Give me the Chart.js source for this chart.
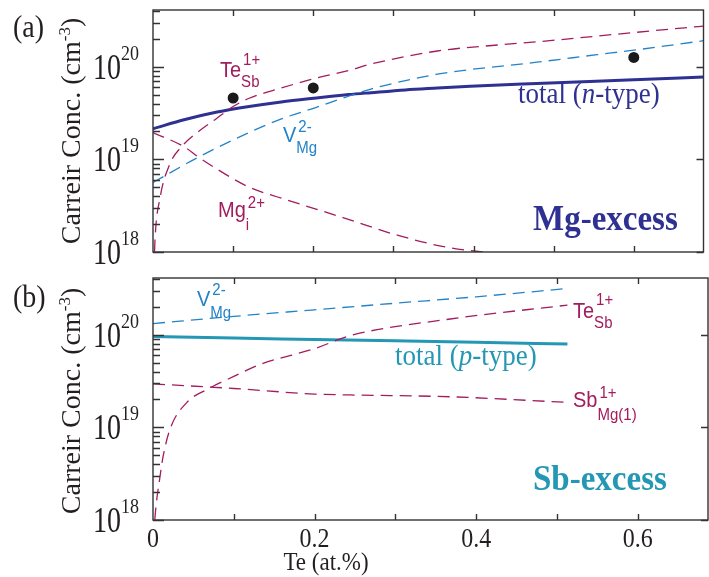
<!DOCTYPE html>
<html>
<head>
<meta charset="utf-8">
<script src="https://cdn.jsdelivr.net/npm/chart.js@4.4.1/dist/chart.umd.min.js"></script>
<style>
  html, body { margin: 0; padding: 0; background: #fff; }
  #wrap { position: relative; width: 709px; height: 577px; }
  canvas { position: absolute; left: 0; }
  #chartA { top: 0; }
  #chartB { top: 262px; }
</style>
</head>
<body>
<div id="wrap">
  <canvas id="chartA" width="709" height="274"></canvas>
  <canvas id="chartB" width="709" height="315"></canvas>
</div>
<script>
// ---- data (x = Te at.%, y = carrier conc. cm^-3) ----

// (a) Mg-excess
const totalNX = [0, 0.04, 0.08, 0.12, 0.16, 0.2, 0.244, 0.272, 0.315, 0.355, 0.396, 0.479, 0.6, 0.687];
const totalNY = [2.14e19, 2.69e19, 3.24e19, 3.72e19, 4.17e19, 4.57e19, 5.01e19, 5.25e19, 5.62e19, 5.89e19, 6.17e19, 6.61e19, 7.24e19, 7.76e19];

const teSbAX = [0.0012, 0.0025, 0.0087, 0.021, 0.037, 0.058, 0.079, 0.1, 0.12, 0.16, 0.2, 0.244, 0.272, 0.355, 0.438, 0.479, 0.6, 0.687];
const teSbAY = [6.3e17, 1.35e18, 3.8e18, 8.9e18, 1.41e19, 2.04e19, 2.75e19, 3.72e19, 4.57e19, 5.89e19, 7.41e19, 9.12e19, 1.07e20, 1.48e20, 1.74e20, 1.86e20, 2.34e20, 2.75e20];

const vMgAX = [0, 0.056, 0.12, 0.161, 0.203, 0.24, 0.272, 0.315, 0.355, 0.396, 0.438, 0.479, 0.554, 0.6, 0.687];
const vMgAY = [5.62e18, 1.05e19, 1.95e19, 2.75e19, 3.63e19, 4.68e19, 5.75e19, 7.08e19, 8.32e19, 9.33e19, 1.02e20, 1.12e20, 1.35e20, 1.51e20, 1.91e20];

const mgIX = [0, 0.04, 0.056, 0.079, 0.12, 0.161, 0.238, 0.306, 0.368, 0.436];
const mgIY = [1.95e19, 1.35e19, 1.07e19, 7.94e18, 5.01e18, 3.8e18, 2.34e18, 1.51e18, 1.12e18, 9.5e17];

const measX = [0.1, 0.2, 0.6];
const measY = [4.6e19, 5.9e19, 1.26e20];

// (b) Sb-excess
const totalPX = [0, 0.1, 0.2, 0.3, 0.4, 0.513];
const totalPY = [9.55e19, 9.2e19, 8.9e19, 8.6e19, 8.3e19, 7.94e19];

const vMgBX = [0, 0.1, 0.2, 0.3, 0.4, 0.513];
const vMgBY = [1.32e20, 1.58e20, 1.86e20, 2.19e20, 2.57e20, 3.16e20];

const teSbBX = [0.001, 0.0025, 0.0087, 0.0124, 0.021, 0.042, 0.067, 0.1, 0.133, 0.2, 0.244, 0.368, 0.513];
const teSbBY = [6.3e17, 1.07e18, 2.95e18, 4.79e18, 9.55e18, 1.86e19, 2.57e19, 3.55e19, 4.79e19, 7.08e19, 9.77e19, 1.48e20, 2.09e20];

const sbMgX = [0, 0.1, 0.2, 0.244, 0.368, 0.513];
const sbMgY = [2.95e19, 2.63e19, 2.29e19, 2.24e19, 2.14e19, 1.86e19];

// axes
const xMin = 0, xMax = 0.687;
const yMin = 1e18, yMax = 4.1e20;
const xTicks = [0.1, 0.2, 0.3, 0.4, 0.5, 0.6];
const xTickLabels = ["0", "0.2", "0.4", "0.6"];
const yExps = [18, 19, 20];
const yMinorMant = [2, 3, 4, 5, 6, 7, 8, 9];

const MAGENTA = "#a21c5e";
const BLUE = "#2383c8";
const NAVY = "#2e3192";
const TEAL = "#2497b5";
const INK = "#231f20";
const SERIF = '"Liberation Serif", "Times New Roman", serif';
const SANS = '"Liberation Sans", Arial, sans-serif';

const pts = (xs, ys) => xs.map((x, i) => ({ x: x, y: ys[i] }));

const dashed = (data, color) => ({
  data: data,
  showLine: true,
  borderColor: color,
  borderWidth: 1.3,
  borderDash: [12, 7],
  pointRadius: 0,
  cubicInterpolationMode: "monotone",
  clip: 0,
});

const solid = (data, color) => ({
  data: data,
  showLine: true,
  borderColor: color,
  borderWidth: 3,
  pointRadius: 0,
  cubicInterpolationMode: "monotone",
  clip: 0,
});

function drawText(ctx, s, x, y, font, color, align, sx, sy) {
  ctx.save();
  ctx.font = font;
  ctx.fillStyle = color;
  ctx.textAlign = align || "left";
  ctx.textBaseline = "alphabetic";
  ctx.translate(x, y);
  ctx.scale(sx || 1, sy || 1);
  ctx.fillText(s, 0, 0);
  const w = ctx.measureText(s).width * (sx || 1);
  ctx.restore();
  return w;
}

function runs(ctx, parts, x, y, color, sy) {
  let cx = x;
  parts.forEach(([s, f]) => {
    cx += drawText(ctx, s, cx, y, f, color, "left", 1, sy);
  });
}

// label like Te_Sb^1+
function species(ctx, x, y, main, sup, sub, color, supDy, subDy) {
  const w = drawText(ctx, main, x, y, "20px " + SANS, color, "left", 1, 1.1);
  drawText(ctx, sup, x + w + 2, y + supDy, "15px " + SANS, color, "left", 1, 1.1);
  drawText(ctx, sub, x + w, y + subDy, "15px " + SANS, color, "left", 1, 1.1);
}

function yTitle(ctx, cy) {
  const f = "28px " + SERIF, fs = "17px " + SERIF;
  ctx.save();
  ctx.translate(80, cy);
  ctx.rotate(-Math.PI / 2);
  ctx.fillStyle = INK;
  ctx.font = f;
  const a = "Carreir Conc. (cm", c = ")";
  const wa = ctx.measureText(a).width, wc = ctx.measureText(c).width;
  ctx.font = fs;
  const wb = ctx.measureText("-3").width;
  let x0 = -(wa + wb + wc) / 2;
  ctx.font = f;
  ctx.fillText(a, x0, 0);
  ctx.font = fs;
  ctx.fillText("-3", x0 + wa, -10);
  ctx.font = f;
  ctx.fillText(c, x0 + wa + wb, 0);
  ctx.restore();
}

function frame(showXLabels, decorate) {
  return {
    id: "frame",
    afterDraw(chart) {
      const ctx = chart.ctx;
      const area = chart.chartArea;
      const xs = chart.scales.x, ys = chart.scales.y;
      ctx.save();
      ctx.strokeStyle = "#333";
      ctx.lineWidth = 1.4;
      ctx.strokeRect(area.left, area.top, area.right - area.left, area.bottom - area.top);
      ctx.beginPath();
      // x ticks, top and bottom, pointing inside
      xTicks.forEach((v) => {
        const px = Math.round(xs.getPixelForValue(v)) + 0.5;
        ctx.moveTo(px, area.top); ctx.lineTo(px, area.top + 6);
        ctx.moveTo(px, area.bottom); ctx.lineTo(px, area.bottom - 6);
      });
      // y ticks: left major + minor, right major only
      yExps.forEach((e) => {
        const py = Math.round(ys.getPixelForValue(Math.pow(10, e))) + 0.5;
        ctx.moveTo(area.left, py); ctx.lineTo(area.left + 11, py);
        ctx.moveTo(area.right, py); ctx.lineTo(area.right - 7, py);
        yMinorMant.forEach((m) => {
          const v = m * Math.pow(10, e);
          if (v > yMax) return;
          const pm = Math.round(ys.getPixelForValue(v)) + 0.5;
          ctx.moveTo(area.left, pm); ctx.lineTo(area.left + 7, pm);
        });
      });
      ctx.stroke();
      ctx.restore();

      // y tick labels 10^n
      yExps.forEach((e) => {
        const py = ys.getPixelForValue(Math.pow(10, e));
        const ws = drawText(ctx, String(e), 139, py - 7, "18px " + SERIF, INK, "right", 1, 1.2);
        drawText(ctx, "10", 139 - ws, py + 12, "28px " + SERIF, INK, "right", 1, 1.3);
      });

      if (showXLabels) {
        [0, 0.2, 0.4, 0.6].forEach((v, i) => {
          drawText(ctx, xTickLabels[i], xs.getPixelForValue(v), area.bottom + 27, "24px " + SERIF, INK, "center", 1, 1.12);
        });
        drawText(ctx, "Te (at.%)", 326, area.bottom + 50, "23px " + SERIF, INK, "center", 1, 1.12);
      }
      decorate(ctx, area);
    },
  };
}

function baseOptions(padTop, padBottom) {
  return {
    responsive: false,
    animation: false,
    devicePixelRatio: 1,
    layout: { padding: { left: 153, right: 1, top: padTop, bottom: padBottom } },
    plugins: { legend: { display: false }, tooltip: { enabled: false } },
    scales: {
      x: { type: "linear", min: xMin, max: xMax, display: false },
      y: { type: "logarithmic", min: yMin, max: yMax, display: false },
    },
  };
}

// Mg-excess panel
new Chart(document.getElementById("chartA"), {
  type: "scatter",
  data: {
    datasets: [
      dashed(pts(mgIX, mgIY), MAGENTA),
      dashed(pts(vMgAX, vMgAY), BLUE),
      dashed(pts(teSbAX, teSbAY), MAGENTA),
      solid(pts(totalNX, totalNY), NAVY),
      {
        data: pts(measX, measY),
        pointRadius: 5.5,
        pointBackgroundColor: "#1a1a1a",
        pointBorderWidth: 0,
        showLine: false,
      },
    ],
  },
  options: baseOptions(10, 22),
  plugins: [
    frame(false, (ctx) => {
      drawText(ctx, "(a)", 13, 37, "28px " + SERIF, INK, "left", 1, 1.1);
      yTitle(ctx, 131);
      species(ctx, 220, 77, "Te", "1+", "Sb", MAGENTA, -12, 10);
      species(ctx, 283, 142, "V", "2-", "Mg", BLUE, -10, 11);
      species(ctx, 218, 217, "Mg", "2+", "i", MAGENTA, -9, 13);
      runs(ctx, [["total (", "27px " + SERIF], ["n", "italic 27px " + SERIF], ["-type)", "27px " + SERIF]], 518, 103, NAVY, 1.1);
      drawText(ctx, "Mg-excess", 533, 230, "bold 33px " + SERIF, NAVY, "left", 1, 1.1);
    }),
  ],
});

// Sb-excess panel
new Chart(document.getElementById("chartB"), {
  type: "scatter",
  data: {
    datasets: [
      dashed(pts(sbMgX, sbMgY), MAGENTA),
      dashed(pts(teSbBX, teSbBY), MAGENTA),
      dashed(pts(vMgBX, vMgBY), BLUE),
      solid(pts(totalPX, totalPY), TEAL),
    ],
  },
  options: baseOptions(16, 57),
  plugins: [
    frame(true, (ctx) => {
      drawText(ctx, "(b)", 13, 45, "28px " + SERIF, INK, "left", 1, 1.1);
      yTitle(ctx, 139);
      species(ctx, 197, 44, "V", "2-", "Mg", BLUE, -11, 12);
      species(ctx, 573, 56, "Te", "1+", "Sb", MAGENTA, -13, 10);
      species(ctx, 573, 145, "Sb", "1+", "Mg(1)", MAGENTA, -9, 13);
      runs(ctx, [["total (", "27px " + SERIF], ["p", "italic 27px " + SERIF], ["-type)", "27px " + SERIF]], 395, 103, TEAL, 1.1);
      drawText(ctx, "Sb-excess", 533, 228, "bold 33px " + SERIF, TEAL, "left", 1, 1.1);
    }),
  ],
});
</script>
</body>
</html>
